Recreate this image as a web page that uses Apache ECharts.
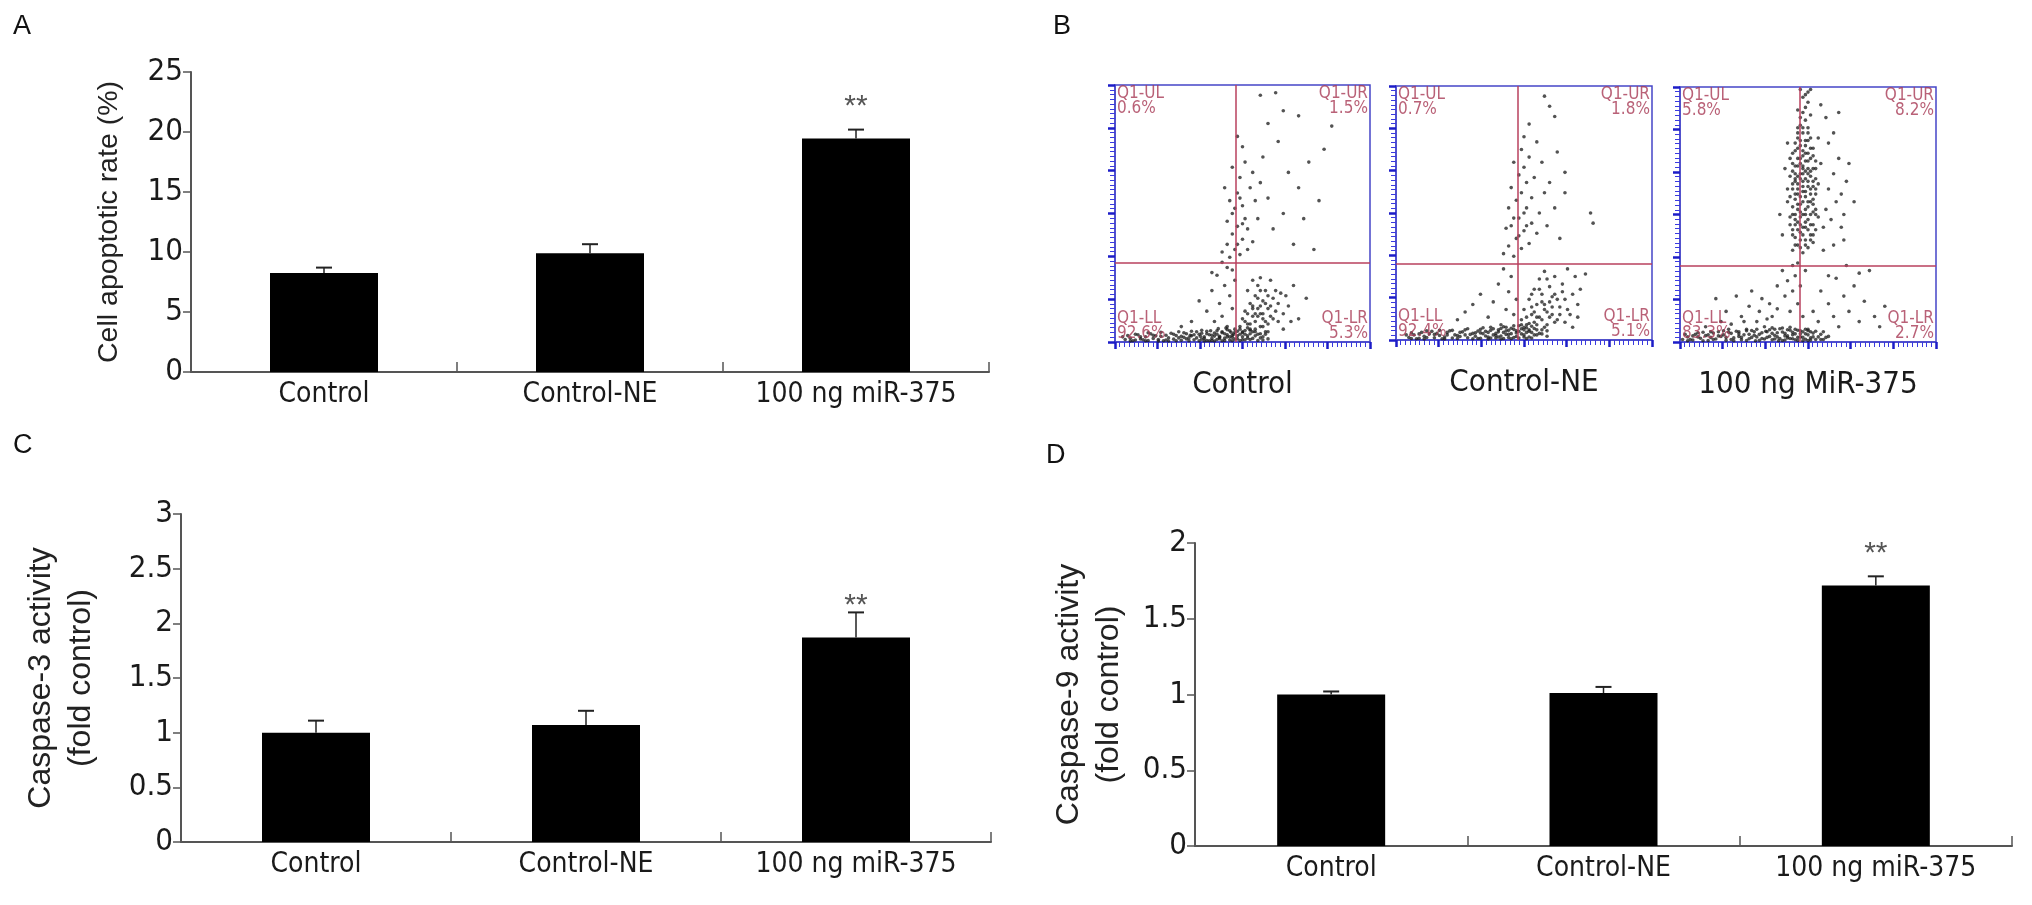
<!DOCTYPE html>
<html lang="en">
<head>
<meta charset="UTF-8">
<title>miR-375 apoptosis</title>
<script src="https://cdn.jsdelivr.net/npm/echarts@6/dist/echarts.min.js"></script>
<style>
    html, body { margin: 0; padding: 0; background: #fff; }
    #main { width: 2032px; height: 905px; }
</style>
</head>
<body>
<div id="main"></div>
<script type="text/javascript">
var FONT = '"Liberation Sans", Arial, sans-serif';
var NARROW = '"Liberation Sans Narrow", "Arial Narrow", "DejaVu Sans Condensed", "Liberation Sans", sans-serif';

// bar panels
var groups = ['Control', 'Control-NE', '100 ng miR-375'];
var rateMean = [8.25, 9.9, 19.45];
var rateTop = [8.7, 10.65, 20.2];
var rateSig = ['', '', '**'];
var casp3Mean = [1.0, 1.07, 1.87];
var casp3Top = [1.11, 1.2, 2.1];
var casp3Sig = ['', '', '**'];
var casp9Mean = [1.0, 1.01, 1.72];
var casp9Top = [1.02, 1.05, 1.78];
var casp9Sig = ['', '', '**'];

// flow panels (percent of plot width / height)
var flowNames = ['Control', 'Control-NE', '100 ng MiR-375'];
var quadNames = ['Q1-UL', 'Q1-UR', 'Q1-LL', 'Q1-LR'];
var quadControl = ['0.6%', '1.5%', '92.6%', '5.3%'];
var quadNE = ['0.7%', '1.8%', '92.4%', '5.1%'];
var quadMiR = ['5.8%', '8.2%', '83.3%', '2.7%'];
var gateX = [47.5, 47.5, 46.7];
var gateY = [30.7, 30, 30];

var flowControl = [
    [4,1],[6,1.5],[8,0.8],[10,1.2],[12,2],[13,0.6],[15,1.4],[17,1],[18,2.2],[20,0.8],[21,1.6],[23,1.1],[24,2.5],
    [26,0.7],[27,1.8],[28,1.2],[30,2.4],[31,0.9],[32,1.6],[33,3],[34,1.1],[35,2],[36,0.6],[37,2.8],[38,1.4],
    [39,3.5],[40,1],[41,2.2],[42,4],[43,1.5],[44,2.8],[45,0.8],[45.5,3.8],[46,1.8],[47,5],[48,1.2],[49,3],
    [50,2],[51,4.5],[52,1.5],[53,3.2],[55,2.4],[57,1.6],[59,3],
    [5,2.5],[7,0.5],[9,2.8],[11,0.9],[14,3.2],[16,2.4],[19,0.5],[22,3.4],[25,1.6],[27,3.6],[29,0.5],[29.5,2.6],
    [32,4],[34,3.4],[35,0.4],[36,4.2],[38,0.6],[39,2.3],[40,4.4],[41,1.3],[42,0.5],[43,3.2],[44,4.8],[45,2],
    [46,0.5],[46.5,3],[47,1.1],[48,4.2],[49,0.6],[50,3.6],[51,0.9],[52,5.5],[53,1],[54,4],[56,3],[58,0.8],
    [3,2],[6,0.4],[8,3],[10,2],[12,0.5],[13,3.6],[15,2.6],[17,0.4],[18,3.8],[20,2.6],[21,0.4],[23,3],[24,0.5],
    [25,4],[26,2.2],[28,3.2],[29,1.6],[30,4.2],[31,2.8],[33,0.5],[33.5,2.2],[34,4.6],[35,1.4],[36,3.2],[37,0.5],
    [37.5,4.4],[38,2.6],[39,0.4],[40,3],[40.5,5.2],[41,1.8],[42,3.6],[43,0.6],[43.5,5.4],[44,2],[45,4.4],
    [46,2.6],[47,3.8],[48,2.4],[49,5],[50,0.9],[51,3],[52,2.4],[53,4.6],[54,1.4],[55,4],[56,0.6],[57,3.2],
    [58,2],[60,1.2],
    [49,6],[50,9],[51,12],[52,7],[53,15],[53,5],[54,10],[55,18],[55,8],[56,13],[56,22],[57,6],[57,11],[58,16],
    [58,9],[59,20],[59,4],[60,13],[60,7],[61,24],[61,10],[62,17],[63,12],[64,8],[65,19],[66,5],[68,14],[70,22],
    [72,9],[75,17],[54,14],[56,17],[58,6],[55,11],[60,18],[57,25],
    [50,4],[51,8],[52,11],[52,20],[53,7],[54,13],[54,24],[55,5],[56,10],[57,14],[57,20],[58,11],[59,8],[59,15],
    [60,4],[61,14],[62,9],[63,20],[64,15],[66,11],[67,18],[69,8],
    [36,12],[38,20],[39,8],[40,26],[41,15],[42,10],[43,22],[44,6],[45,18],[46,28],[46,13],[47,24],[44,29],
    [42,31],[38,27],[30,8],[26,6],[33,16],
    [42,35],[44,38],[45,33],[46,42],[47,36],[48,45],[49,34],[50,40],[51,48],[47,52],[45,55],[48,58],[50,53],
    [52,44],[53,60],[49,64],[46,68],[51,70],[54,66],[44,47],[43,60],[50,76],[48,80],[55,55],[56,48],[52,36],
    [54,39],[57,62],[48,38],[50,46],[46,50],[49,56],
    [58,72],[60,56],[62,44],[64,78],[66,50],[68,66],[70,38],[72,60],[74,48],[76,70],[78,36],[80,55],[82,75],
    [85,84],[66,90],[72,88],[60,85],[57,96],[63,97]
];
var flowNE = [
    [5,1],[7,2],[9,0.7],[11,1.5],[13,2.4],[15,0.9],[17,1.8],[19,1.2],[20,3],[22,0.8],[23,2],[25,1.4],[26,3.2],
    [28,0.9],[29,2.2],[31,1.5],[32,3.5],[33,0.7],[34,2.5],[36,1.2],[37,3.8],[38,2],[39,0.8],[40,4],[41,1.6],
    [42,3],[43,5],[44,1],[45,2.5],[46,4.2],[47,1.4],[48,3.4],[49,6],[50,2],[51,4.8],[52,1.2],[53,3],[55,2],
    [57,4],[59,1.5],
    [6,2.8],[8,0.5],[10,3],[12,1],[14,3.4],[16,2.6],[18,0.5],[21,3.6],[24,1.8],[27,4],[30,0.5],[31,2.8],[33,4.2],
    [35,3.4],[36,0.4],[37,5],[39,2.6],[40,1.2],[41,4.5],[42,0.6],[43,2.2],[44,3.8],[45,0.5],[46,5.6],[47,2.8],
    [48,0.8],[49,4.4],[50,1.2],[51,3],[52,6.5],[53,0.8],[54,4.5],[56,2.6],[58,5],
    [4,2],[6,0.6],[9,2.4],[11,0.4],[12,3.6],[15,2.2],[17,3.8],[19,0.4],[20,2],[22,3.8],[24,0.6],[25,3],[27,2],
    [28,4.4],[30,2.6],[32,0.6],[33,2.8],[34,4.8],[35,1.6],[36,3],[37,0.8],[38,4.4],[39,1.8],[40,3.2],[41,0.4],
    [42,5.2],[43,3.6],[44,2.2],[45,4.6],[46,1],[47,3.6],[48,5.6],[49,2.4],[50,4],[51,0.6],[52,3.4],[53,5.4],
    [54,2],[55,4],[57,2.4],[59,3.6],
    [49,8],[50,12],[51,6],[52,16],[53,10],[54,20],[54,7],[55,14],[56,24],[56,9],[57,18],[58,12],[58,27],[59,6],
    [60,21],[60,15],[61,10],[62,25],[62,18],[63,8],[64,13],[65,22],[66,16],[68,10],[70,25],[72,20],[74,26],
    [71,14],[67,28],[69,5],[53,13],[55,9],[57,15],[59,11],[61,17],
    [50,5],[51,9],[52,4],[53,18],[54,11],[55,6],[56,20],[57,8],[58,14],[59,24],[60,9],[61,13],[62,7],[63,16],
    [64,10],[65,19],[66,7],[67,12],[69,18],[71,9],
    [33,18],[36,9],[38,15],[40,22],[41,6],[42,28],[43,12],[44,19],[45,25],[46,10],[47,16],[30,14],[27,11],[24,8],
    [42,34],[44,37],[45,45],[46,33],[47,40],[48,48],[49,36],[50,43],[51,52],[52,38],[53,46],[47,55],[49,58],
    [51,62],[53,56],[45,60],[48,65],[50,68],[52,72],[46,70],[49,75],[54,64],[56,50],[55,42],[44,52],[43,44],
    [50,80],[52,85],[58,58],[57,70],[48,41],[50,50],[46,48],[51,45],
    [59,45],[60,62],[62,52],[63,74],[64,40],[66,58],[60,92],[62,88],[58,96],[76,50],[77,46],[66,66],[55,78]
];
var flowMiR = [
    [44,36],[46,38],[48,35],[50,37],[52,39],[45,41],[47,43],[49,40],[51,42],[53,44],[43,46],[46,47],[48,45],
    [50,48],[52,46],[44,50],[46,52],[48,50],[50,53],[52,51],[54,49],[42,55],[45,56],[47,54],[49,57],[51,55],
    [53,58],[44,60],[46,62],[48,59],[50,61],[52,63],[43,65],[45,66],[47,64],[49,67],[51,65],[53,68],[44,70],
    [46,72],[48,69],[50,71],[52,73],[45,75],[47,77],[49,74],[51,76],[46,80],[48,82],[50,79],[47,85],[49,87],
    [48,90],[50,94],[49,97],[47,99],[51,99],[46,58],[48,63],[47,49],[49,52],[45,63],[51,60],[47,70],[49,79],
    [46,84],[50,84],[44,44],[52,56],[48,66],[46,69],[50,68],[48,73],[45,48],[53,52],[42,60],[54,62],[43,72],
    [55,70],[47,40],[49,45],
    [45,38],[47,37],[49,38],[51,40],[44,42],[46,44],[48,42],[50,44],[52,42],[45,46],[47,46],[49,47],[51,46],
    [43,49],[45,50],[47,51],[49,50],[51,50],[53,50],[44,53],[46,54],[48,55],[50,55],[52,54],[43,57],[45,58],
    [47,57],[49,59],[51,58],[53,60],[44,62],[46,60],[48,61],[50,63],[52,61],[45,64],[47,66],[49,64],[51,67],
    [53,64],[44,67],[46,65],[48,68],[50,66],[52,68],[45,69],[47,72],[49,71],[51,72],[53,71],[44,74],[46,76],
    [48,75],[50,74],[52,76],[45,78],[47,79],[49,77],[51,80],[46,82],[48,84],[50,82],[47,88],[49,92],[51,89],
    [46,91],[48,96],[50,98],
    [56,45],[57,52],[58,60],[59,48],[60,66],[61,55],[62,72],[63,58],[64,50],[65,63],[58,78],[60,82],[57,88],
    [62,90],[55,93],[66,70],[68,55],[64,40],[56,36],[60,38],[54,80],[40,42],[39,50],[41,68],[42,78],[63,45],
    [40,28],[42,24],[44,20],[45,26],[46,15],[47,22],[48,10],[43,12],[41,18],[38,22],[36,10],[44,30],[46,31],[49,28],
    [18,12],[20,7],[22,18],[24,10],[26,5],[27,14],[28,20],[30,8],[31,12],[32,17],[33,6],[34,9],[35,15],[37,5],
    [38,13],[29,4],[25,8],[23,4],[19,5],[16,8],[14,17],[12,4],[10,6],
    [50,5],[52,12],[54,8],[55,20],[56,4],[58,15],[60,10],[61,25],[62,6],[64,18],[66,12],[68,22],[70,8],[72,16],
    [74,28],[76,10],[78,6],[80,14],[58,26],[65,30],[70,27],
    [1,1],[3,2],[5,0.8],[6,3],[8,1.5],[10,2.5],[11,0.6],[13,3.5],[14,1.2],[16,2.2],[18,0.7],[19,3.8],[21,1.6],
    [22,4.2],[24,0.9],[25,2.8],[27,1.3],[28,4.5],[30,2],[31,0.7],[32,3.6],[34,1.8],[35,4.8],[36,0.9],[37,2.6],
    [39,1.4],[40,3.9],[41,0.8],[42,2.4],[43,4.6],[44,1.3],[45,3.2],[46,0.6],[47,2],[48,4],[49,1.1],[50,2.8],
    [51,1.6],[52,3.5],[54,2],[56,1],
    [2,3],[4,1],[7,2],[9,3.8],[12,1.8],[15,4],[17,2.8],[20,1],[23,2.2],[26,4.4],[29,2.6],[29.5,0.5],[33,1.2],
    [33.5,4.2],[36,3.4],[38,2],[38.5,0.5],[40,5.5],[41,2.4],[42,4.8],[43,1.4],[44,3.8],[45,0.9],[46,4.6],
    [47,3.2],[48,1.8],[49,5],[50,0.6],[51,4],[53,1],[55,3],[57,1.8],
    [3,0.5],[5,2.4],[7,3.6],[9,0.5],[11,2.8],[13,1],[15,2.4],[17,4.4],[18,1.8],[20,3.4],[21,0.5],[23,3.2],
    [24,1.8],[26,0.6],[27,3],[28,1.8],[30,5],[31,3],[32,1.4],[34,4],[35,2.2],[36,5.6],[37,1.2],[38,3.6],
    [39,5.2],[40,0.6],[41,3.4],[42,1.6],[43,5.8],[44,2.8],[45,5],[46,1.8],[47,4.4],[48,0.5],[49,3.2],[50,4.4],
    [51,0.8],[52,2],[53,4.2],[55,1],[58,2.2]
];

var myChart = echarts.init(document.getElementById('main'), null, {renderer: 'canvas'});

var grids = [], xAxes = [], yAxes = [], series = [];

function addBarPanel(box, yMax, yStep, yName, nameSize, nameGap, mean, top, sig, starGap) {
    var gi = grids.length;
    grids.push({left: box[0], top: box[1], width: box[2], height: box[3], outerBoundsMode: 'none', containLabel: false});
    xAxes.push({
        gridIndex: gi, type: 'category', data: groups,
        axisLine: {show: true, lineStyle: {color: '#555', width: 2}},
        axisTick: {show: true, inside: true, length: 10, alignWithLabel: false, lineStyle: {color: '#555', width: 1.5}},
        axisLabel: {fontSize: 28, color: '#1a1a1a', margin: 9, fontFamily: NARROW, interval: 0},
        splitLine: {show: false}
    });
    yAxes.push({
        gridIndex: gi, type: 'value', min: 0, max: yMax, interval: yStep,
        name: yName, nameLocation: 'middle', nameGap: nameGap, nameRotate: 90,
        nameTextStyle: {fontSize: nameSize, color: '#222', fontFamily: FONT, lineHeight: nameSize + 8},
        axisLine: {show: true, lineStyle: {color: '#555', width: 2}},
        axisTick: {show: true, inside: false, length: 8, lineStyle: {color: '#555', width: 1.5}},
        axisLabel: {fontSize: 31, color: '#1a1a1a', margin: 8, fontFamily: NARROW},
        splitLine: {show: false}
    });
    series.push({
        type: 'bar', xAxisIndex: gi, yAxisIndex: gi, data: mean, barWidth: 108,
        itemStyle: {color: '#000'}, silent: true, animation: false
    });
    series.push({
        type: 'custom', xAxisIndex: gi, yAxisIndex: gi, silent: true, animation: false, z: 5,
        encode: {x: 0, y: [1, 2]},
        data: mean.map(function (m, i) { return [i, m, top[i]]; }),
        renderItem: function (params, api) {
            var i = api.value(0);
            var p0 = api.coord([i, api.value(1)]);
            var p1 = api.coord([i, api.value(2)]);
            var kids = [
                {type: 'line', shape: {x1: p0[0], y1: p0[1], x2: p1[0], y2: p1[1]}, style: {stroke: '#222', lineWidth: 1.5}},
                {type: 'line', shape: {x1: p1[0] - 8, y1: p1[1], x2: p1[0] + 8, y2: p1[1]}, style: {stroke: '#222', lineWidth: 2}}
            ];
            if (sig[i]) {
                kids.push({type: 'text', style: {text: sig[i], x: p1[0], y: p1[1] - starGap, align: 'center', verticalAlign: 'bottom',
                    fontSize: 30, fill: '#555', fontFamily: FONT}});
            }
            return {type: 'group', children: kids};
        }
    });
}

function addFlowPanel(box, k, pts, quad) {
    var gi = grids.length;
    grids.push({left: box[0], top: box[1], width: box[2], height: box[3], outerBoundsMode: 'none', containLabel: false,
        show: true, borderColor: '#4646c8', borderWidth: 1.5, backgroundColor: '#fff'});
    var flowAxis = {
        gridIndex: gi, type: 'value', min: 0, max: 100, interval: 100 / 6,
        axisLine: {show: true, lineStyle: {color: '#4646c8', width: 1.5}},
        axisTick: {show: true, inside: false, length: 7, lineStyle: {color: '#1c1cc8', width: 2.5}},
        minorTick: {show: true, splitNumber: 9, length: 5, lineStyle: {color: '#3a3ae0', width: 1}},
        axisLabel: {show: false}, splitLine: {show: false}
    };
    xAxes.push(Object.assign({}, flowAxis, {
        name: flowNames[k], nameLocation: 'middle', nameGap: 27,
        nameTextStyle: {fontSize: 31, color: '#1a1a1a', fontFamily: NARROW}
    }));
    yAxes.push(Object.assign({}, flowAxis));
    series.push({
        type: 'scatter', xAxisIndex: gi, yAxisIndex: gi, data: pts, symbolSize: 3.6, silent: true, animation: false,
        itemStyle: {color: '#1a1a1a', opacity: 0.75},
        markLine: {
            silent: true, symbol: 'none', animation: false, label: {show: false},
            lineStyle: {color: '#b8405e', width: 1.5, type: 'solid'},
            data: [{xAxis: gateX[k]}, {yAxis: gateY[k]}]
        }
    });
    var corners = [[0.8, 99.5, 'left', 'top'], [99.2, 99.5, 'right', 'top'], [0.8, 0.3, 'left', 'bottom'], [99.2, 0.3, 'right', 'bottom']];
    series.push({
        type: 'scatter', xAxisIndex: gi, yAxisIndex: gi, symbolSize: 0, silent: true, animation: false, z: 6,
        data: corners.map(function (c, j) {
            return {
                value: [c[0], c[1]],
                label: {show: true, position: 'inside', align: c[2], verticalAlign: c[3],
                    formatter: quadNames[j] + '\n' + quad[j], color: '#a83a55', fontSize: 17, lineHeight: 15,
                    fontFamily: NARROW}
            };
        })
    });
}

addBarPanel([191, 72, 798, 300], 25, 5, 'Cell apoptotic rate (%)', 28.5, 64, rateMean, rateTop, rateSig, 8);
addBarPanel([181, 514, 810, 328], 3, 0.5, 'Caspase-3 activity\n(fold control)', 32, 80, casp3Mean, casp3Top, casp3Sig, -8);
addBarPanel([1195, 543, 817, 303], 2, 0.5, 'Caspase-9 activity\n(fold control)', 32, 66, casp9Mean, casp9Top, casp9Sig, 8);
addFlowPanel([1115, 85, 255, 257], 0, flowControl, quadControl);
addFlowPanel([1396, 86, 256, 254], 1, flowNE, quadNE);
addFlowPanel([1680, 87, 256, 255], 2, flowMiR, quadMiR);

var letterStyle = {fontSize: 27, fill: '#111', fontFamily: FONT};
var option = {
    backgroundColor: '#fff',
    animation: false,
    grid: grids,
    xAxis: xAxes,
    yAxis: yAxes,
    series: series,
    graphic: [
        {type: 'text', left: 13, top: 13, style: Object.assign({text: 'A'}, letterStyle)},
        {type: 'text', left: 1053, top: 13, style: Object.assign({text: 'B'}, letterStyle)},
        {type: 'text', left: 13, top: 432, style: Object.assign({text: 'C'}, letterStyle)},
        {type: 'text', left: 1046, top: 442, style: Object.assign({text: 'D'}, letterStyle)}
    ]
};
myChart.setOption(option);
</script>
</body>
</html>
